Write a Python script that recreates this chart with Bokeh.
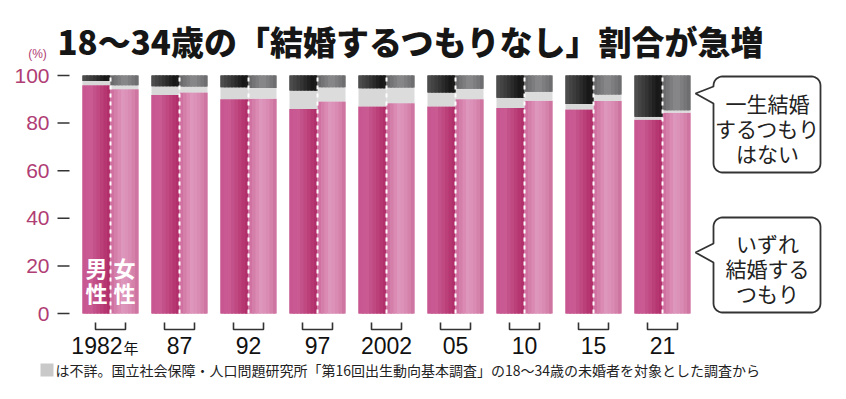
import numpy as np
from bokeh.plotting import figure
from bokeh.models import Range1d
from bokeh.core.properties import value
from bokeh.embed import file_html
from bokeh.resources import INLINE

# ---- data ----
years = ["1982", "87", "92", "97", "2002", "05", "10", "15", "21"]
year_suffix = ["年", "", "", "", "", "", "", "", ""]
male_will = [95.9, 91.8, 90.0, 85.9, 87.0, 87.0, 86.3, 85.7, 81.4]
male_never = [2.3, 4.5, 4.9, 6.3, 5.4, 7.1, 9.4, 12.0, 17.3]
female_will = [94.2, 92.9, 90.2, 89.1, 88.3, 90.0, 89.4, 89.3, 84.3]
female_never = [4.1, 4.6, 5.2, 4.9, 5.0, 5.6, 6.8, 8.0, 14.6]
y_ticks = [0, 20, 40, 60, 80, 100]

title_text = "18～34歳の「結婚するつもりなし」割合が急増"
note_text = "は不詳。国立社会保障・人口問題研究所「第16回出生動向基本調査」の18～34歳の未婚者を対象とした調査から"
call_never = ["一生結婚", "するつもり", "はない"]
call_will = ["いずれ", "結婚する", "つもり"]
sex_m = ["男", "性"]
sex_f = ["女", "性"]

W, H = 830, 383
# picture-pixel -> data conversions
GX, GS = 110.0, 69.0          # x of first group centre, px per group
Y0, YS = 313.0, 2.38          # y of 0 %, px per %
def X(px): return (px - GX) / GS
def Y(py): return (Y0 - py) / YS

p = figure(width=W, height=H, output_backend="svg", toolbar_location=None,
           x_range=Range1d(X(0), X(W)), y_range=Range1d(Y(H), Y(0)),
           x_axis_type=None, y_axis_type=None, min_border=0)
p.outline_line_color = None
p.grid.visible = False
p.background_fill_color = "white"

n = len(years)
idx = np.arange(n)
bw = 28.0 / GS
mx = idx - bw / 2
fx = idx + bw / 2
mw = np.array(male_will); mn = np.array(male_never)
fw = np.array(female_will); fn = np.array(female_never)

def hex2rgb(h):
    h = h.lstrip("#")
    return np.array([int(h[i:i + 2], 16) for i in (0, 2, 4)], float)

def interp(stops, t):
    ps = [s[0] for s in stops]
    cs = [hex2rgb(s[1]) for s in stops]
    rgb = [np.interp(t, ps, [c[k] for c in cs]) for k in range(3)]
    return "#%02x%02x%02x" % tuple(int(round(v)) for v in rgb)

NS = 8
def shaded(centers, bottom, top, stops):
    # base fill first, then overlapping strips (left edge fixed) to avoid seams
    p.vbar(x=centers, width=bw, bottom=bottom, top=top, fill_color=interp(stops, 0.5), line_color=None)
    sw = bw / NS
    for k in range(NS):
        t = (k + 0.5) / NS
        col = interp(stops, t)
        left = centers - bw / 2 + k * sw
        right = centers + bw / 2 if k == NS - 1 else left + sw * 1.6
        p.quad(left=left, right=right, bottom=bottom, top=top, fill_color=col, line_color=None)

M_PINK = [(0, "#c65590"), (0.3, "#c95c93"), (0.7, "#bb3f79"), (0.92, "#b02d69"), (1, "#b53570")]
F_PINK = [(0, "#cd6b9c"), (0.45, "#df98bd"), (0.75, "#d888b0"), (1, "#cc6f9d")]
M_DARK = [(0, "#505050"), (0.35, "#3a3a3a"), (0.85, "#151515"), (1, "#202020")]
F_DARK = [(0, "#676769"), (0.5, "#8a8a8c"), (1, "#6a6a6c")]

# pink (will marry)
shaded(mx, 0, mw, M_PINK)
shaded(fx, 0, fw, F_PINK)
# unknown (grey)
p.vbar(x=mx, width=bw, bottom=mw, top=100 - mn, fill_color="#d8d8d8", line_color=None)
p.vbar(x=fx, width=bw, bottom=fw, top=100 - fn, fill_color="#dcdcdc", line_color=None)
# never marry (dark)
shaded(mx, 100 - mn, 100, M_DARK)
shaded(fx, 100 - fn, 100, F_DARK)
# white dashed divider
p.segment(x0=idx, x1=idx, y0=0, y1=100, line_color="white", line_width=2, line_dash="4 4")

# y ticks
p.segment(x0=X(57), x1=X(69), y0=y_ticks, y1=y_ticks, line_color="#333333", line_width=1.5)
p.text(x=X(49), y=y_ticks, text=[str(t) for t in y_ticks], text_align="right",
       text_baseline="middle", text_font=value("Liberation Sans"),
       text_font_size="21px", text_color="#b03d74")
p.text(x=X(37), y=Y(53), text=["(%)"], text_align="center", text_baseline="middle",
       text_font=value("Liberation Sans"), text_font_size="12px", text_color="#b03d74")

# brackets under each group
half = 15.0 / GS
xs = [[i - half, i - half, i + half, i + half] for i in idx]
ys = [[Y(322), Y(329), Y(329), Y(322)] for _ in idx]
p.multi_line(xs=xs, ys=ys, line_color="#333333", line_width=1.6)

# year labels
NUMFONT = value("Liberation Sans Narrow, Liberation Sans")
p.text(x=idx[1:], y=Y(345), text=years[1:], text_align="center", text_baseline="middle",
       text_font=NUMFONT, text_font_size="23px", text_color="#111111")
p.text(x=[X(122)], y=Y(345), text=[years[0]], text_align="right", text_baseline="middle",
       text_font=NUMFONT, text_font_size="23px", text_color="#111111")
p.text(x=[X(123)], y=Y(347), text=[year_suffix[0]], text_align="left", text_baseline="middle",
       text_font=value("Noto Sans CJK JP"), text_font_size="15px", text_color="#111111")

# 男性 / 女性 inside first bars
for k, (a, b) in enumerate(zip(sex_m, sex_f)):
    yy = Y(266 + 25 * k)
    p.text(x=[mx[0], fx[0]], y=[yy, yy], text=[a, b], text_align="center", text_baseline="middle",
           text_font=value("Noto Sans CJK JP"), text_font_style="bold", text_font_size="22px",
           text_color="white")

# title
p.text(x=X(57), y=Y(40), text=[title_text], text_align="left", text_baseline="middle",
       text_font=value("Noto Sans CJK JP Black, Noto Sans CJK JP"), text_font_style="bold",
       text_font_size="33px", text_color="#161616")

# footer
p.quad(left=X(40), right=X(53), top=Y(363), bottom=Y(376), fill_color="#c9c9c9", line_color=None)
p.text(x=X(55), y=Y(369), text=[note_text], text_align="left", text_baseline="middle",
       text_font=value("Noto Sans CJK JP"), text_font_size="14px", text_color="#222222")

# callouts
def callout(x0, x1, y0, y1, r, tip, b0, b1):
    pts = [(x0, b0), (x0, y0 + r)]
    def arc(cx, cy, a0, a1):
        for t in np.linspace(np.radians(a0), np.radians(a1), 8):
            pts.append((cx + r * np.cos(t), cy + r * np.sin(t)))
    arc(x0 + r, y0 + r, 180, 270)
    arc(x1 - r, y0 + r, 270, 360)
    arc(x1 - r, y1 - r, 0, 90)
    arc(x0 + r, y1 - r, 90, 180)
    pts.append((x0, b1))
    pts.append(tip)
    pts.append((x0, b0))
    return [X(a) for a, b in pts], [Y(b) for a, b in pts]

for (y0, y1, tip, b0, b1, lines, ty) in [
        (76, 172, (695, 93), 86, 103, call_never, 102),
        (217, 312, (695, 252), 243, 262, call_will, 242)]:
    cx, cy = callout(713, 820, y0, y1, 9, tip, b0, b1)
    p.patch(cx, cy, fill_color="white", line_color="#333333", line_width=1.8)
    for k, ln in enumerate(lines):
        p.text(x=X(767), y=Y(ty + 25 * k), text=[ln], text_align="center", text_baseline="middle",
               text_font=value("Noto Sans CJK JP"), text_font_size="21px", text_color="#222222")

open("out.html", "w").write(file_html(p, INLINE))
